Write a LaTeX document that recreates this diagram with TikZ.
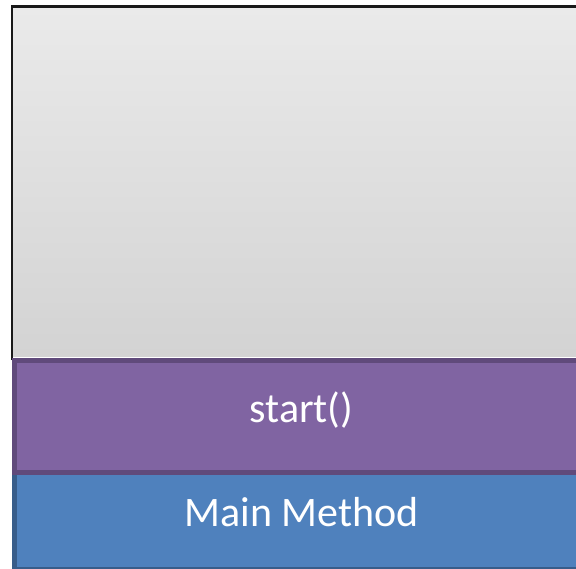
\documentclass[tikz,border=0pt]{standalone}
\usepackage{fontspec}
\setmainfont{Carlito}
\definecolor{grtop}{HTML}{EAEAEA}
\definecolor{grbot}{HTML}{D3D3D3}
\definecolor{purfill}{HTML}{8064A2}
\definecolor{purline}{HTML}{604A7B}
\definecolor{blufill}{HTML}{4F81BD}
\definecolor{bluline}{HTML}{385D8A}
\tikzset{
  layer/.style={line width=5pt, minimum width=574pt, anchor=north west, inner sep=0pt,
    text=white, font=\fontsize{42}{50}\selectfont, text height=29pt, text depth=18pt},
}
\begin{document}
\begin{tikzpicture}[x=1pt,y=-1pt]
\useasboundingbox (0,0) rectangle (576,568);
% grey frame
\shade[top color=grtop, bottom color=grbot] (12,6.5) rectangle (600,356);
\draw[line width=2.2pt, black!90] (12,360) -- (12,6.5) -- (600,6.5);
% layers
\node[layer, draw=bluline, fill=blufill, minimum height=97pt] (main) at (12,470) {Main Method};
\node[layer, draw=purline, fill=purfill, minimum height=112pt] (start) at (12,358) {start()};
\end{tikzpicture}
\end{document}
